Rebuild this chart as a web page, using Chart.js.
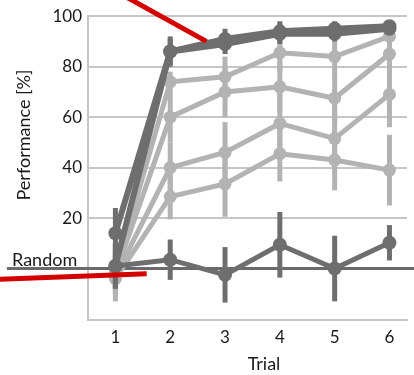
<!DOCTYPE html>
<html><head><meta charset="utf-8">
<script src="https://cdn.jsdelivr.net/npm/chart.js@4.4.1/dist/chart.umd.min.js"></script>
<style>html,body{margin:0;padding:0;background:#fff}#wrap{width:414px;height:375px}</style>
</head><body><div id="wrap"><canvas id="c" width="414" height="375"></canvas></div>
<script>
// ---- data ----
const trials = [1, 2, 3, 4, 5, 6];
const yTickValues = [20, 40, 60, 80, 100];

const darkA = [14, 86, 89, 93, 93, 95];
const darkAErr = [10, 6, 4, 4, 3, 2];
const darkB = [1, 86, 91, 94, 95, 96];
const darkBErr = [9, 5, 4, 4, 3, 2];
const randomSeries = [1, 3.5, -2.5, 9.4, 0, 10.2];
const randomSeriesErr = [9, 8, 11, 13, 13, 7];

const light1 = [-1, 74, 76, 85.5, 84, 92];
const light1Err = [8, 4, 8, 8, 8, 5];
const light2 = [-2, 60, 70, 72, 67.5, 85];
const light2Err = [8, 10, 10, 10, 10, 8];
const light3 = [-3, 40, 46, 57.5, 51.5, 69];
const light3Err = [8, 10, 12, 12, 12, 13];
const light4 = [-4, 28.5, 33.5, 45.5, 43, 39];
const light4Err = [9, 9, 13, 11, 12, 14];

const chanceLevel = 0;
const chanceLineX = [-0.98, 7];
const redLine1X = [1.0, 2.66];
const redLine1Y = [110, 90];
const redLine2X = [-1.2, 1.571];
const redLine2Y = [-4.3, -2.1];

// ---- styling ----
const DARK = '#6e6e6e';
const LIGHT = '#b3b3b3';
const GRID = '#c6c6c6';
const RED = '#d40000';
const FONT = 'Lato';

const pts = (xs, ys) => xs.map((x, i) => ({x: x, y: ys[i]}));

function series(vals, errs, color, radius, width, order) {
  return {
    data: pts(trials, vals), errors: errs,
    borderColor: color, backgroundColor: color,
    borderWidth: width, pointRadius: radius, pointHoverRadius: radius,
    pointBorderWidth: 0, tension: 0, order: order
  };
}

const datasets = [
  {data: pts(redLine1X, redLine1Y), borderColor: RED, borderWidth: 5, pointRadius: 0, clip: false, order: 0, borderCapStyle: 'butt'},
  {data: pts(redLine2X, redLine2Y), borderColor: RED, borderWidth: 5, pointRadius: 0, clip: false, order: 0, borderCapStyle: 'butt'},
  series(darkA, darkAErr, DARK, 7, 6, 1),
  series(darkB, darkBErr, DARK, 7, 6, 1),
  series(randomSeries, randomSeriesErr, DARK, 7, 5, 2),
  series(light1, light1Err, LIGHT, 6.5, 5, 3),
  series(light2, light2Err, LIGHT, 6.5, 5, 3),
  series(light3, light3Err, LIGHT, 6.5, 5, 3),
  series(light4, light4Err, LIGHT, 6.5, 5, 3),
  {data: pts(chanceLineX, [chanceLevel, chanceLevel]), borderColor: '#6a6a6a', borderWidth: 3, pointRadius: 0, clip: false, order: 10}
];

const errorBars = {
  id: 'errorBars',
  beforeDatasetDraw(chart, args) {
    const ds = chart.data.datasets[args.index];
    if (!ds.errors) return;
    const ctx = chart.ctx, xs = chart.scales.x, ys = chart.scales.y;
    ctx.save();
    ctx.strokeStyle = ds.borderColor;
    ctx.lineWidth = 5;
    ctx.lineCap = 'butt';
    ds.data.forEach((p, i) => {
      const e = ds.errors[i];
      const x = xs.getPixelForValue(p.x);
      ctx.beginPath();
      ctx.moveTo(x, ys.getPixelForValue(p.y - e));
      ctx.lineTo(x, ys.getPixelForValue(p.y + e));
      ctx.stroke();
    });
    ctx.restore();
  }
};

const texts = {
  id: 'texts',
  afterDraw(chart) {
    const ctx = chart.ctx;
    ctx.save();
    ctx.fillStyle = '#1a1a1a';
    ctx.font = '18px ' + FONT;
    ctx.textAlign = 'center';
    ctx.textBaseline = 'alphabetic';
    ctx.fillText('Trial', 264, 370);
    ctx.textAlign = 'left';
    ctx.fillText('Random', 12, 266);
    ctx.translate(24, 135);
    ctx.rotate(-Math.PI / 2);
    ctx.textAlign = 'center';
    ctx.textBaseline = 'middle';
    ctx.fillText('Performance [%]', 0, 0);
    ctx.restore();
  }
};

new Chart(document.getElementById('c'), {
  type: 'line',
  data: {datasets: datasets},
  plugins: [errorBars, texts],
  options: {
    responsive: false, animation: false, devicePixelRatio: 1,
    layout: {padding: {top: 16, right: 0, bottom: 0, left: 0}},
    plugins: {legend: {display: false}, tooltip: {enabled: false}},
    scales: {
      x: {
        type: 'linear', min: 0.5, max: 6.32,
        afterBuildTicks: s => { s.ticks = trials.map(v => ({value: v})); },
        afterFit: s => { s.height = 55; },
        grid: {display: false, drawTicks: false},
        border: {display: true, color: GRID, width: 2},
        ticks: {font: {family: FONT, size: 17}, color: '#1a1a1a', padding: 7, maxRotation: 0}
      },
      y: {
        type: 'linear', min: -20.4, max: 100,
        afterBuildTicks: s => { s.ticks = yTickValues.map(v => ({value: v})); },
        afterFit: s => { s.width = 88; },
        grid: {color: GRID, lineWidth: 2, drawTicks: false},
        border: {display: true, color: GRID, width: 2},
        ticks: {font: {family: FONT, size: 17}, color: '#1a1a1a', padding: 6}
      }
    }
  }
});
</script>
</body></html>
